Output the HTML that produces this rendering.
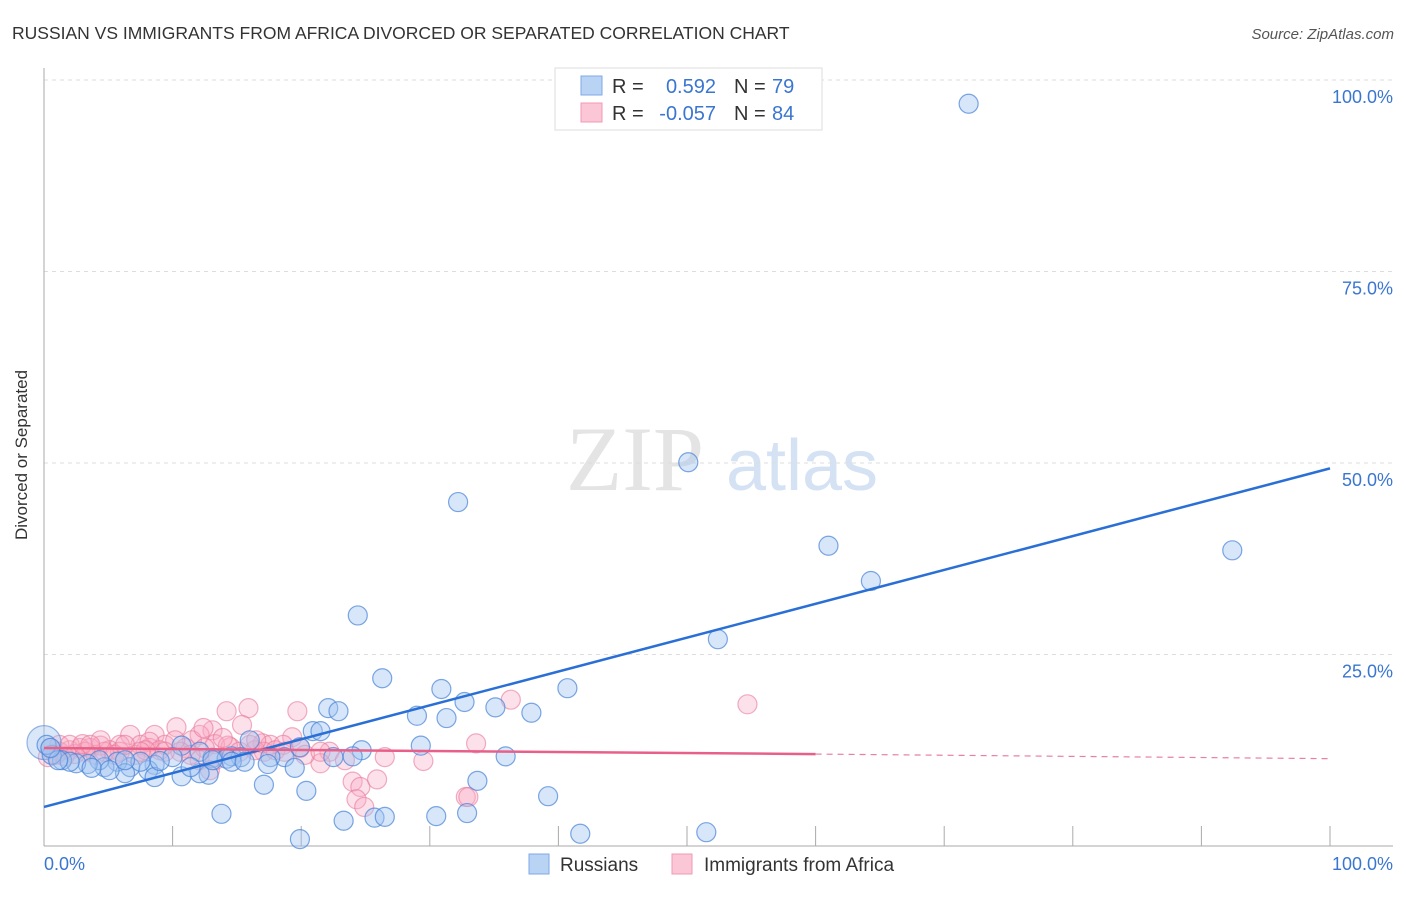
<!DOCTYPE html>
<html><head><meta charset="utf-8">
<style>
body{margin:0;background:#fff;font-family:"Liberation Sans",sans-serif;}
svg text{font-family:"Liberation Sans",sans-serif;}
</style></head>
<body>
<svg id="chart" width="1406" height="892" viewBox="0 0 1406 892">
<text x="12" y="39" font-size="17.5" fill="#333">RUSSIAN VS IMMIGRANTS FROM AFRICA DIVORCED OR SEPARATED CORRELATION CHART</text>
<text x="1394" y="39" font-size="15" fill="#555" text-anchor="end" font-style="italic">Source: ZipAtlas.com</text>
<text x="27" y="455" font-size="17" fill="#333" text-anchor="middle" transform="rotate(-90 27 455)">Divorced or Separated</text>
<g>
<text x="635" y="490" font-size="92" fill="#e4e4e4" text-anchor="middle" font-family="Liberation Serif" style="font-family:'Liberation Serif',serif">ZIP</text>
<text x="802" y="490" font-size="72" fill="#d4e2f4" text-anchor="middle">atlas</text>
</g>
<g id="grid"></g>
<g id="axes"></g>
<g id="pink"></g>
<g id="blue"></g>
<g id="lines"></g>
<g>
<rect x="555" y="68" width="267" height="62" fill="#fff" stroke="#ddd"/>
<rect x="581" y="76" width="21" height="19" fill="#b9d3f5" stroke="#7eaae6"/>
<rect x="581" y="103" width="21" height="19" fill="#fbc6d5" stroke="#f09ab4"/>
<text x="612" y="93" font-size="20" fill="#333">R =</text>
<text x="716" y="93" font-size="20" fill="#3a76d0" text-anchor="end">0.592</text>
<text x="734" y="93" font-size="20" fill="#333">N =</text>
<text x="772" y="93" font-size="20" fill="#3a76d0">79</text>
<text x="612" y="120" font-size="20" fill="#333">R =</text>
<text x="716" y="120" font-size="20" fill="#3a76d0" text-anchor="end">-0.057</text>
<text x="734" y="120" font-size="20" fill="#333">N =</text>
<text x="772" y="120" font-size="20" fill="#3a76d0">84</text>
</g>
<g>
<g>
<rect x="529" y="854" width="20" height="20" fill="#b9d3f5" stroke="#7eaae6"/>
<text x="560" y="871" font-size="19" fill="#333">Russians</text></g>
<g>
<rect x="672" y="854" width="20" height="20" fill="#fbc6d5" stroke="#f09ab4"/>
<text x="704" y="871" font-size="19" fill="#333">Immigrants from Africa</text></g>
</g>
</svg>
<script>
const yTicks=[25,50,75,100];
const yTickLabels=["25.0%","50.0%","75.0%","100.0%"];
const xTicks=[10,20,30,40,50,60,70,80,90,100];
const xAxisLabels=["0.0%","100.0%"];
const blueX=[71.9,50.1,32.2,61.0,92.4,64.3,24.4,52.4,26.3,40.7,30.9,22.1,22.9,32.7,35.1,37.9,29.0,31.3,20.9,21.5,19.9,29.3,24.7,24.0,22.5,35.9,18.7,17.6,16.0,14.6,13.1,15.3,14.2,12.1,10.7,10.0,8.6,8.1,6.7,5.7,4.7,4.3,3.4,2.5,1.4,0.6,0.2,17.1,20.4,33.7,39.2,19.5,12.8,10.7,12.1,8.6,6.3,13.8,23.3,25.7,26.5,30.5,32.9,19.9,41.7,51.5,17.4,14.6,15.6,11.4,9.0,7.5,5.1,3.7,2.0,1.1,0.5,6.3,13.1];
const blueY=[96.9,50.1,44.9,39.2,38.6,34.6,30.1,27.0,21.9,20.6,20.5,18.0,17.6,18.8,18.1,17.4,17.0,16.7,15.0,15.0,12.9,13.1,12.5,11.7,11.6,11.7,11.6,11.6,13.8,11.7,11.5,11.6,11.4,12.3,13.1,11.6,10.6,9.9,10.3,11.0,10.3,11.2,10.7,10.8,11.2,11.9,13.2,8.0,7.2,8.5,6.5,10.2,9.3,9.1,9.5,9.0,9.5,4.2,3.3,3.7,3.8,3.9,4.3,0.9,1.6,1.8,10.7,11.0,11.0,10.3,11.1,11.0,9.9,10.2,11.0,11.2,12.8,11.2,11.2];
const pinkX=[36.3,54.7,14.2,15.9,19.7,10.3,13.1,15.4,12.1,8.6,6.7,11.5,9.4,7.5,5.9,4.4,3.6,2.8,2.0,1.2,0.5,13.3,14.5,17.0,17.6,19.3,19.9,22.2,17.1,18.0,5.1,8.2,11.0,12.5,33.6,26.5,29.5,24.0,24.6,25.9,24.3,24.9,32.8,33.0,14.3,10.6,16.4,12.1,12.9,8.2,9.0,10.2,15.2,16.0,7.1,5.9,4.7,4.0,3.2,2.4,1.6,0.9,0.3,21.5,20.3,18.6,13.9,12.4,7.9,5.5,4.4,9.4,11.4,13.3,6.3,7.5,1.2,2.0,3.0,3.6,16.5,18.7,21.5,23.4];
const pinkY=[19.1,18.5,17.6,18.0,17.6,15.5,15.1,15.8,14.5,14.5,14.5,13.8,13.2,13.2,13.2,13.1,12.8,12.8,12.5,12.3,12.8,13.3,12.9,13.4,13.2,14.2,12.8,12.3,12.3,12.5,12.5,12.8,12.8,12.8,13.4,11.6,11.1,8.4,7.7,8.7,6.1,5.1,6.4,6.4,13.1,12.3,12.5,11.2,9.9,13.6,12.5,13.8,12.3,13.2,11.9,12.3,12.3,11.9,12.3,12.0,11.7,11.9,11.6,10.8,11.9,13.2,14.1,15.4,12.5,11.9,13.8,12.3,11.9,11.2,13.2,12.3,13.2,13.2,13.3,13.2,13.8,12.3,12.3,11.2];
const blueTrend=[0,5.1,100,49.3];
const pinkTrend=[0,12.8,60,12.0,100,11.4];

const NS="http://www.w3.org/2000/svg";
const X0=44,X1=1330,Y0=846,Y1=80;
const sx=v=>X0+(X1-X0)*v/100;
const sy=v=>Y0-(Y0-Y1)*v/100;
function mk(tag,attrs,parent){const e=document.createElementNS(NS,tag);for(const k in attrs)e.setAttribute(k,attrs[k]);parent.appendChild(e);return e;}
const grid=document.getElementById('grid'),axes=document.getElementById('axes');
yTicks.forEach((t,i)=>{
  const l=mk('line',{x1:X0,x2:1393,y1:sy(t),y2:sy(t),stroke:'#ddd','stroke-dasharray':'4,4'},grid);
  
  
  const tx=mk('text',{x:1393,y:sy(t)+23,'font-size':18,fill:'#3a76d0','text-anchor':'end'},axes);
  tx.textContent=yTickLabels[i];
  
  
});
mk('line',{x1:X0,x2:X0,y1:68,y2:Y0,stroke:'#aaa'},axes);
mk('line',{x1:X0,x2:1393,y1:Y0,y2:Y0,stroke:'#aaa'},axes);
xTicks.forEach(t=>{
  const l=mk('line',{x1:sx(t),x2:sx(t),y1:826,y2:Y0,stroke:'#aaa'},axes);
  
  
});
const xl0=mk('text',{x:44,y:870,'font-size':18,fill:'#3a76d0'},axes);xl0.textContent=xAxisLabels[0];


const xl1=mk('text',{x:1393,y:870,'font-size':18,fill:'#3a76d0','text-anchor':'end'},axes);xl1.textContent=xAxisLabels[1];



const pg=document.getElementById('pink');
pinkX.forEach((x,i)=>{
  const c=mk('circle',{cx:sx(x),cy:sy(pinkY[i]),r:9.5,fill:'rgba(248,170,195,0.35)',stroke:'rgba(232,120,155,0.6)','stroke-width':1.2},pg);
  
  
});
const bg=document.getElementById('blue');
const big=mk('circle',{cx:sx(0),cy:sy(13.5),r:17,fill:'rgba(160,195,240,0.4)',stroke:'rgba(80,135,215,0.6)','stroke-width':1.2},bg);


blueX.forEach((x,i)=>{
  const c=mk('circle',{cx:sx(x),cy:sy(blueY[i]),r:9.5,fill:'rgba(160,195,240,0.42)',stroke:'rgba(70,130,215,0.7)','stroke-width':1.2},bg);
  
  
});
const lg=document.getElementById('lines');
const bl=mk('line',{x1:sx(blueTrend[0]),y1:sy(blueTrend[1]),x2:sx(blueTrend[2]),y2:sy(blueTrend[3]),stroke:'#2a6fd6','stroke-width':2.5},lg);


const pl=mk('line',{x1:sx(pinkTrend[0]),y1:sy(pinkTrend[1]),x2:sx(pinkTrend[2]),y2:sy(pinkTrend[3]),stroke:'#e8608a','stroke-width':2.5},lg);


const pd=mk('line',{x1:sx(pinkTrend[2]),y1:sy(pinkTrend[3]),x2:sx(pinkTrend[4]),y2:sy(pinkTrend[5]),stroke:'#e8809f','stroke-width':1.2,'stroke-dasharray':'6,5'},lg);


</script>
</body></html>
